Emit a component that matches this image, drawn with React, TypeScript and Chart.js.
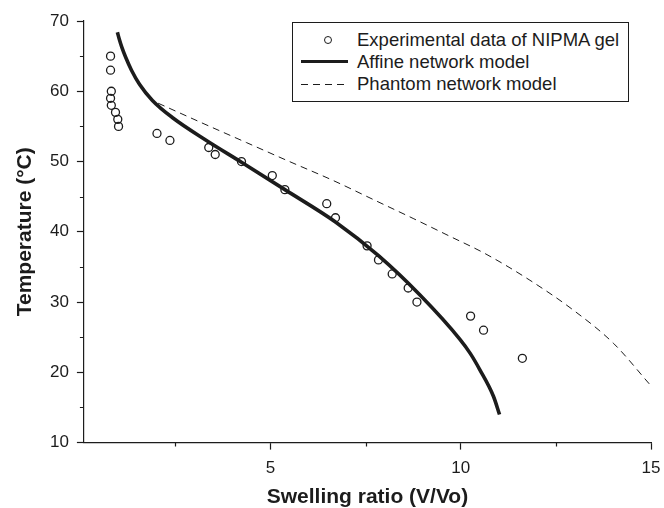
import React, { useEffect, useRef } from "react";
import { Chart, registerables } from "chart.js";

Chart.register(...registerables);

const expX = [0.8, 0.8, 0.82, 0.8, 0.82, 0.93, 0.99, 1.01, 2.02, 2.36, 3.38, 3.55, 4.24, 5.05, 5.38, 6.48, 6.71, 7.54, 7.84, 8.2, 8.62, 8.85, 10.26, 10.6, 11.62];
const expY = [65, 63, 60, 59, 58, 57, 56, 55, 54, 53, 52, 51, 50, 48, 46, 44, 42, 38, 36, 34, 32, 30, 28, 26, 22];

const affineX = [0.98, 1.03, 1.1, 1.2, 1.35, 1.56, 1.9, 2.44, 3.32, 4.24, 5.38, 6.71, 7.84, 8.93, 9.98, 10.25, 10.5, 10.86, 11.02];
const affineY = [68.4, 67.4, 66.2, 64.8, 63.0, 61.0, 58.7, 56.2, 53.0, 49.9, 46.0, 41.4, 36.6, 31.0, 24.7, 22.7, 20.4, 16.6, 14.0];

const phantomX = [2.05, 3.2, 4.37, 5.5, 6.65, 7.7, 8.75, 9.7, 10.64, 11.82, 12.96, 14.02, 14.98];
const phantomY = [58.3, 55.5, 52.7, 50.0, 47.3, 44.6, 41.9, 39.4, 36.9, 33.1, 28.85, 24.1, 18.2];

const xTicks = [2.5, 5, 7.5, 10, 12.5, 15];
const yTicks = [10, 15, 20, 25, 30, 35, 40, 45, 50, 55, 60, 65, 70];

const legendLabels = ["Experimental data of NIPMA gel", "Affine network model", "Phantom network model"];
const xTitle = "Swelling ratio (V/Vo)";
const yTitle = "Temperature (°C)";

const INK = "#1c1c1c";
const FONT = "'Liberation Sans', Arial, Helvetica, sans-serif";

const zip = (xs: number[], ys: number[]) => xs.map((x, i) => ({ x, y: ys[i] }));

const minorTicks = {
  id: "minorTicks",
  afterDraw(chart: any) {
    const { ctx } = chart;
    const xs = chart.scales.x;
    const ys = chart.scales.y;
    ctx.save();
    ctx.strokeStyle = INK;
    ctx.lineWidth = 1.2;
    ctx.beginPath();
    xTicks.filter((v) => v % 5 !== 0).forEach((v) => {
      const px = Math.round(xs.getPixelForValue(v)) + 0.5;
      ctx.moveTo(px, ys.bottom);
      ctx.lineTo(px, ys.bottom + 4);
    });
    yTicks.filter((v) => v % 10 !== 0).forEach((v) => {
      const py = Math.round(ys.getPixelForValue(v)) + 0.5;
      ctx.moveTo(xs.left, py);
      ctx.lineTo(xs.left - 4, py);
    });
    ctx.stroke();
    ctx.restore();
  },
};

export default function App() {
  const ref = useRef<HTMLCanvasElement>(null);

  useEffect(() => {
    if (!ref.current) return;
    const chart = new Chart(ref.current, {
      type: "scatter",
      data: {
        datasets: [
          {
            label: legendLabels[0],
            data: zip(expX, expY),
            showLine: false,
            pointStyle: "circle",
            pointRadius: 4,
            pointBorderWidth: 1.3,
            pointBorderColor: INK,
            pointBackgroundColor: "rgba(255,255,255,0)",
            order: 0,
          },
          {
            label: legendLabels[1],
            data: zip(affineX, affineY),
            showLine: true,
            borderColor: INK,
            borderWidth: 3.6,
            pointRadius: 0,
            cubicInterpolationMode: "monotone",
            order: 1,
          },
          {
            label: legendLabels[2],
            data: zip(phantomX, phantomY),
            showLine: true,
            borderColor: INK,
            borderWidth: 1,
            borderDash: [7, 5],
            pointRadius: 0,
            cubicInterpolationMode: "monotone",
            order: 2,
          },
        ],
      },
      options: {
        responsive: false,
        animation: false,
        layout: { padding: { left: 0, right: 13, top: 21, bottom: 0 } },
        plugins: { legend: { display: false }, tooltip: { enabled: false } },
        scales: {
          x: {
            type: "linear",
            min: 0.1,
            max: 15,
            afterBuildTicks: (s: any) => {
              s.ticks = xTicks.map((v) => ({ value: v }));
            },
            afterFit: (s: any) => {
              s.paddingRight = 0;
            },
            border: { color: INK, width: 1.2 },
            grid: {
              drawOnChartArea: false,
              drawTicks: true,
              tickLength: 7,
              tickWidth: 1.2,
              tickColor: (c: any) => (c.tick && c.tick.value % 5 === 0 ? INK : "rgba(0,0,0,0)"),
            },
            ticks: {
              autoSkip: false,
              maxRotation: 0,
              padding: 8.5,
              color: INK,
              font: { family: FONT, size: 17 },
              callback: (v: any) => (Number(v) % 5 === 0 ? String(v) : ""),
            },
            title: {
              display: true,
              text: xTitle,
              color: INK,
              font: { family: FONT, size: 21, weight: "bold", lineHeight: 1 },
              padding: { top: 0, bottom: 0 },
            },
          },
          y: {
            type: "linear",
            min: 10,
            max: 70,
            afterBuildTicks: (s: any) => {
              s.ticks = yTicks.map((v) => ({ value: v }));
            },
            border: { color: INK, width: 1.2 },
            grid: {
              drawOnChartArea: false,
              drawTicks: true,
              tickLength: 7,
              tickWidth: 1.2,
              tickColor: (c: any) => (c.tick && c.tick.value % 10 === 0 ? INK : "rgba(0,0,0,0)"),
            },
            ticks: {
              autoSkip: false,
              padding: 8,
              color: INK,
              font: { family: FONT, size: 17 },
              callback: (v: any) => (Number(v) % 10 === 0 ? String(v) : ""),
            },
            title: {
              display: true,
              text: yTitle,
              color: INK,
              font: { family: FONT, size: 21, weight: "bold", lineHeight: 1 },
              padding: { top: 15, bottom: 6 },
            },
          },
        },
      },
      plugins: [minorTicks],
    } as any);
    return () => chart.destroy();
  }, []);

  const rowStyle: React.CSSProperties = {
    position: "absolute",
    left: 0,
    height: 22,
    width: "100%",
  };
  const textStyle: React.CSSProperties = {
    position: "absolute",
    left: 64,
    top: 0,
    whiteSpace: "nowrap",
    fontFamily: FONT,
    fontSize: 18.5,
    color: INK,
    lineHeight: "22px",
  };

  return (
    <div style={{ position: "fixed", left: 0, top: 0, width: 664, height: 508, background: "#fff" }}>
      <canvas ref={ref} width={664} height={508} style={{ display: "block", width: 664, height: 508 }} />
      <div
        style={{
          position: "absolute",
          left: 292,
          top: 22,
          width: 337,
          height: 80,
          border: `1.2px solid ${INK}`,
          background: "#fff",
          boxSizing: "border-box",
        }}
      >
        <div style={{ ...rowStyle, top: 6 }}>
          <div
            style={{
              position: "absolute",
              left: 31,
              top: 7,
              width: 8,
              height: 8,
              border: `1.3px solid ${INK}`,
              borderRadius: "50%",
              boxSizing: "border-box",
            }}
          />
          <span style={textStyle}>{legendLabels[0]}</span>
        </div>
        <div style={{ ...rowStyle, top: 28 }}>
          <div style={{ position: "absolute", left: 8, top: 9, width: 47, height: 0, borderTop: `3.6px solid ${INK}` }} />
          <span style={textStyle}>{legendLabels[1]}</span>
        </div>
        <div style={{ ...rowStyle, top: 50 }}>
          <svg style={{ position: "absolute", left: 8, top: 10 }} width={48} height={3}>
            <line x1={0} y1={1.5} x2={48} y2={1.5} stroke={INK} strokeWidth={1} strokeDasharray="7 5" />
          </svg>
          <span style={textStyle}>{legendLabels[2]}</span>
        </div>
      </div>
    </div>
  );
}
